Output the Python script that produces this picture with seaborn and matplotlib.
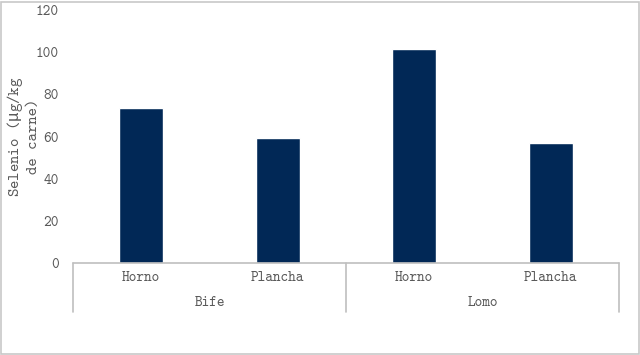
import matplotlib
matplotlib.use("Agg")
import matplotlib.pyplot as plt
import matplotlib.transforms as mtransforms
from matplotlib.patches import Rectangle
import seaborn as sns
import pandas as pd

groups = ["Bife", "Bife", "Lomo", "Lomo"]
methods = ["Horno", "Plancha", "Horno", "Plancha"]
values = [73.3, 59.3, 101.7, 56.7]
group_names = ["Bife", "Lomo"]
yticks = [0, 20, 40, 60, 80, 100, 120]
ylabel = "Selenio ($\\mathrm{\\mu}$g/kg\nde carne)"

sns.set_theme(style="white")
plt.rcParams["font.family"] = ["cmtt10", "Liberation Mono", "DejaVu Sans"]
plt.rcParams["mathtext.fontset"] = "custom"
plt.rcParams["mathtext.rm"] = "Liberation Mono"
plt.rcParams["mathtext.it"] = "Liberation Mono"

df = pd.DataFrame({"pos": [f"{g}-{m}" for g, m in zip(groups, methods)],
                   "valor": values})

fig = plt.figure(figsize=(6.4, 3.55), dpi=100)
ax = fig.add_axes([73/640, 1-263/355, (619-73)/640, (263-10)/355])

sns.barplot(data=df, x="pos", y="valor", color="#012856", width=0.32,
            saturation=1, ax=ax)

fs = 10.5
tc = "#595959"
ax.set_ylim(0, 120)
ax.set_xlim(-0.5, 3.5)
ax.set_yticks(yticks)
ax.set_yticklabels([str(t) for t in yticks], fontsize=fs, color=tc)
ax.tick_params(axis="y", length=0, pad=10)
ax.set_xticks([])
ax.set_xlabel("")
ax.set_ylabel(ylabel, fontsize=11.5, color=tc, linespacing=1.2)
ax.yaxis.set_label_coords(-0.058, 0.5)
for s in ["top", "right", "left", "bottom"]:
    ax.spines[s].set_visible(False)

gray = "#BFBFBF"
trans = mtransforms.blended_transform_factory(ax.transData, ax.transAxes)
px = 1 / 253  # one pixel in axes fraction (vertical)
# baseline
ax.plot([-0.5, 3.5], [0, 0], transform=trans, color=gray, lw=1.2, clip_on=False)
# vertical separators
for xv in [-0.5, 1.5, 3.5]:
    ax.plot([xv, xv], [0, -49 * px], transform=trans, color=gray, lw=1.2,
            clip_on=False)
# sub-category labels
for i, m in enumerate(methods):
    ax.text(i, -15 * px, m, transform=trans, ha="center", va="center",
            fontsize=fs, color=tc)
# group labels
for j, g in enumerate(group_names):
    ax.text(2 * j + 0.5, -40 * px, g, transform=trans, ha="center",
            va="center", fontsize=fs, color=tc)

# figure border
fig.patches.append(Rectangle((1/640, 1/355), 638/640, 352/355,
                             transform=fig.transFigure, fill=False,
                             edgecolor="#C8C8C8", lw=1.2))

fig.savefig("out.png", dpi=100)
